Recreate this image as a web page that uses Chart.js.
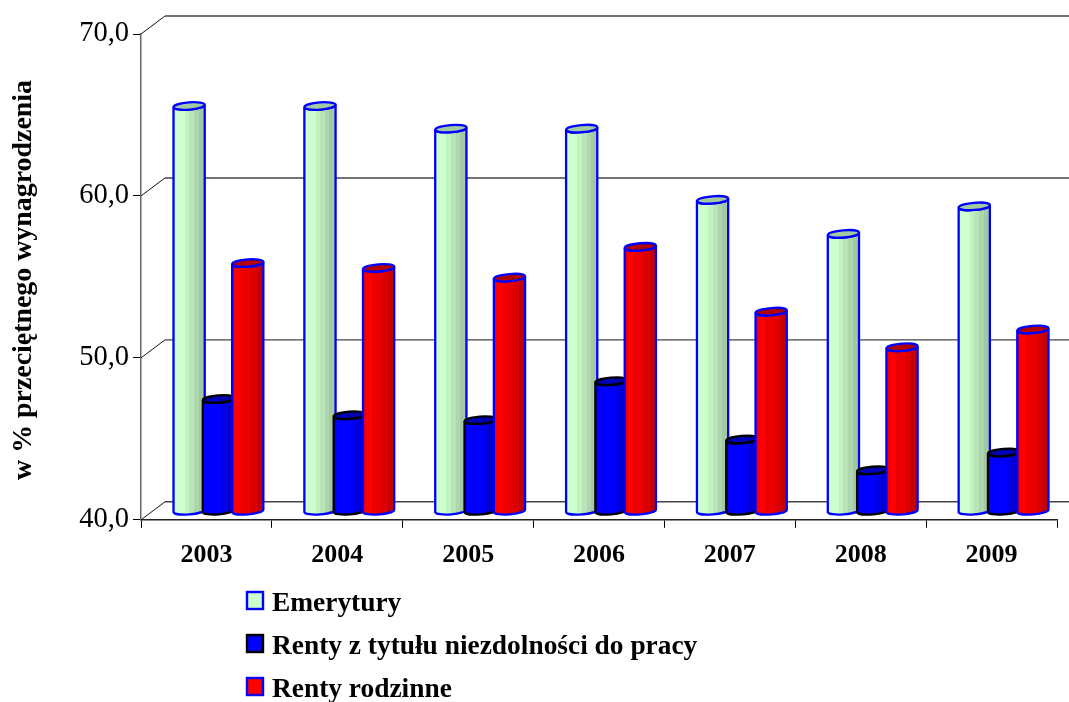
<!DOCTYPE html>
<html>
<head>
<meta charset="utf-8">
<title>Wykres</title>
<script src="https://cdn.jsdelivr.net/npm/chart.js@4"></script>
<style>
    html, body { margin: 0; padding: 0; background: #fff; overflow: hidden; }
    canvas { display: block; }
</style>
</head>
<body>
<canvas id="chart" width="1069" height="702"></canvas>
<script>
const years = ['2003', '2004', '2005', '2006', '2007', '2008', '2009'];
const emerytury = [65.0, 65.0, 63.6, 63.6, 59.2, 57.1, 58.8];
const rentyNiezdolnosc = [46.9, 45.9, 45.6, 48.0, 44.4, 42.5, 43.6];
const rentyRodzinne = [55.3, 55.0, 54.4, 56.3, 52.3, 50.1, 51.2];
const seriesNames = ['Emerytury', 'Renty z tytułu niezdolności do pracy', 'Renty rodzinne'];

const FONT = '"Liberation Serif", "Times New Roman", serif';

// depth of the fake 3D box
const DEPTH_X = 24;
const DEPTH_Y = -18;

const looks = [
    {
        stroke: '#0000ff', cap: '#a3c9a3', swatch: '#ccffcc',
        bands: [[0, '#ccffcc'], [0.36, '#ccffcc'], [0.36, '#c2f2c2'], [0.5, '#c2f2c2'], [0.5, '#b8e4b8'],
            [0.66, '#b8e4b8'], [0.66, '#aed6ae'], [0.8, '#aed6ae'], [0.8, '#a3c9a3'], [1, '#a3c9a3']],
    },
    {
        stroke: '#000000', cap: '#0000b4', swatch: '#0000ff',
        bands: [[0, '#0000ff'], [0.62, '#0000ff'], [0.62, '#0000e6'], [0.76, '#0000e6'], [0.76, '#0000d2'],
            [0.88, '#0000d2'], [0.88, '#0000bf'], [1, '#0000bf']],
    },
    {
        stroke: '#0000ff', cap: '#b00000', swatch: '#ff0000',
        bands: [[0, '#f00000'], [0.1, '#f00000'], [0.1, '#ff0000'], [0.3, '#ff0000'], [0.3, '#ea0000'],
            [0.62, '#ea0000'], [0.62, '#d90000'], [0.8, '#d90000'], [0.8, '#c60000'], [1, '#c60000']],
    },
];

function drawCylinder(ctx, bar, look, floorY) {
    const cx = bar.x + DEPTH_X / 2;
    const top = bar.y + DEPTH_Y / 2;
    const bottom = floorY + DEPTH_Y / 2;
    const rx = bar.width / 2 + 1;
    const ry = 3.6;
    const tilt = -0.08;

    const side = ctx.createLinearGradient(cx - rx, 0, cx + rx, 0);
    look.bands.forEach(b => side.addColorStop(b[0], b[1]));

    ctx.lineWidth = 2.3;
    ctx.strokeStyle = look.stroke;

    ctx.beginPath();
    ctx.ellipse(cx, bottom, rx, ry, tilt, Math.PI, 0, true);
    ctx.ellipse(cx, top, rx, ry, tilt, 0, Math.PI, false);
    ctx.closePath();
    ctx.fillStyle = side;
    ctx.fill();
    ctx.stroke();

    ctx.beginPath();
    ctx.ellipse(cx, top, rx, ry, tilt, 0, Math.PI * 2);
    ctx.fillStyle = look.cap;
    ctx.fill();
    ctx.stroke();
}

const wallPlugin = {
    id: 'wall',
    beforeDatasetsDraw(chart) {
        const { ctx, scales } = chart;
        const x0 = scales.x.left;
        ctx.save();
        scales.y.ticks.forEach(t => {
            const y = scales.y.getPixelForValue(t.value);
            ctx.lineWidth = 1;
            ctx.strokeStyle = '#111';
            ctx.beginPath();
            ctx.moveTo(x0, y);
            ctx.lineTo(x0 + DEPTH_X, y + DEPTH_Y);
            ctx.stroke();
            ctx.lineWidth = 1.4;
            ctx.strokeStyle = '#444';
            ctx.beginPath();
            ctx.moveTo(x0 + DEPTH_X, y + DEPTH_Y);
            ctx.lineTo(chart.width, y + DEPTH_Y);
            ctx.stroke();
        });
        ctx.restore();
    },
};

const cylinderPlugin = {
    id: 'cylinders',
    afterDatasetsDraw(chart) {
        const ctx = chart.ctx;
        const floorY = chart.scales.y.bottom;
        ctx.save();
        chart.data.datasets.forEach((ds, i) => {
            chart.getDatasetMeta(i).data.forEach(bar => drawCylinder(ctx, bar, looks[i], floorY));
        });
        ctx.restore();
    },
};

const sideLegend = {
    id: 'sideLegend',
    afterDraw(chart) {
        const ctx = chart.ctx;
        ctx.save();
        ctx.font = 'bold 27.4px ' + FONT;
        ctx.textBaseline = 'alphabetic';
        chart.data.datasets.forEach((ds, i) => {
            const y = 592 + i * 43;
            ctx.fillStyle = looks[i].swatch;
            ctx.strokeStyle = looks[i].stroke;
            ctx.lineWidth = 2.4;
            ctx.fillRect(247, y, 16, 17);
            ctx.strokeRect(247, y, 16, 17);
            ctx.fillStyle = '#000';
            ctx.fillText(ds.label, 272, y + 19);
        });

        // axis title, sits a little below the centre of the axis
        ctx.translate(24, 280);
        ctx.rotate(-Math.PI / 2);
        ctx.font = 'bold 27.9px ' + FONT;
        ctx.textAlign = 'center';
        ctx.textBaseline = 'middle';
        ctx.fillText('w % przeciętnego wynagrodzenia', 0, 0);
        ctx.restore();
    },
};

new Chart(document.getElementById('chart'), {
    type: 'bar',
    data: {
        labels: years,
        datasets: [emerytury, rentyNiezdolnosc, rentyRodzinne].map((values, i) => ({
            label: seriesNames[i],
            data: values,
            backgroundColor: 'transparent',
            borderWidth: 0,
            categoryPercentage: 0.672,
            barPercentage: 1,
        })),
    },
    options: {
        responsive: false,
        animation: false,
        // natural x axis height is about 51px, the rest is room for the legend
        layout: { padding: { top: 34, right: 12, left: 0, bottom: 119 } },
        plugins: {
            legend: { display: false },
            tooltip: { enabled: false },
        },
        scales: {
            x: {
                grid: { drawOnChartArea: false, color: '#000', tickLength: 8, lineWidth: 1, offset: true },
                border: { color: '#222', width: 1.5 },
                ticks: { color: '#000', font: { family: FONT, size: 26, weight: 'bold' }, padding: 12, maxRotation: 0 },
            },
            y: {
                min: 40,
                max: 70,
                afterFit: s => { s.width = 141; },
                grid: { drawOnChartArea: false, color: '#000', tickLength: 8, lineWidth: 1 },
                border: { color: '#666', width: 1.5 },
                ticks: {
                    stepSize: 10,
                    color: '#000',
                    font: { family: FONT, size: 28.5 },
                    padding: 4,
                    callback: v => v.toFixed(1).replace('.', ','),
                },
            },
        },
    },
    plugins: [wallPlugin, cylinderPlugin, sideLegend],
});
</script>
</body>
</html>
